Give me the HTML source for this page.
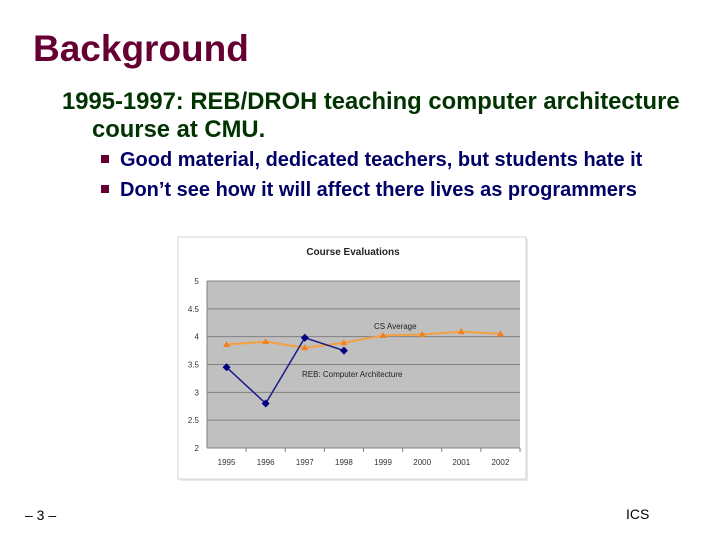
<!DOCTYPE html>
<html><head><meta charset="utf-8"><style>
body{margin:0;width:720px;height:540px;background:#fff;position:relative;overflow:hidden;font-family:"Liberation Sans",Arial,sans-serif}
.a{position:absolute;white-space:nowrap}
</style></head><body>
<div class="a" style="left:33px;top:28px;font-size:37px;font-weight:bold;color:#660033">Background</div>
<div class="a" style="left:62px;top:88px;font-size:23.8px;font-weight:bold;color:#003300;line-height:28px">1995-1997: REB/DROH teaching computer architecture</div>
<div class="a" style="left:92px;top:116px;font-size:23.8px;font-weight:bold;color:#003300;line-height:28px">course at CMU.</div>
<div class="a" style="left:101px;top:149px;font-size:20px;font-weight:bold;color:#000066"><span style="display:inline-block;width:8px;height:8px;background:#660033;margin-right:11px;vertical-align:3px"></span>Good material, dedicated teachers, but students hate it</div>
<div class="a" style="left:101px;top:179px;font-size:20px;font-weight:bold;color:#000066"><span style="display:inline-block;width:8px;height:8px;background:#660033;margin-right:11px;vertical-align:3px"></span>Don’t see how it will affect there lives as programmers</div>
<div class="a" style="left:25px;top:507px;font-size:14px;color:#000">– 3 –</div>
<div class="a" style="left:626px;top:506px;font-size:14px;color:#000">ICS</div>
<svg class="a" style="left:0;top:0" width="720" height="540" id="chart"></svg>
<script>
const years=["1995","1996","1997","1998","1999","2000","2001","2002"];
const csAvg=[3.86,3.91,3.80,3.89,4.02,4.04,4.09,4.05];
const reb=[3.45,2.8,3.98,3.75];
const yTicks=[2,2.5,3,3.5,4,4.5,5];
const NS="http://www.w3.org/2000/svg";
const svg=document.getElementById('chart');
const L=207,R=520,T=281,B=448;
const bw=(R-L)/years.length;
const x=i=>L+bw*(i+0.5);
const y=v=>B-(v-2)/3*(B-T);
function mk(t,a,p){const e=document.createElementNS(NS,t);for(const k in a)e.setAttribute(k,a[k]);(p||svg).appendChild(e);return e;}
let e;
e=mk('rect',{x:180,y:239,width:348,height:242,fill:'#e8e8e8'});

e=mk('rect',{x:178,y:237,width:348,height:242,fill:'#fff',stroke:'#d4d4d4'});

e=mk('text',{x:353,y:255,'text-anchor':'middle','font-size':10,'font-weight':'bold',fill:'#222'});e.textContent='Course Evaluations';

e=mk('rect',{x:L,y:T,width:R-L,height:B-T,fill:'#c0c0c0'});

yTicks.forEach(v=>{
 e=mk('line',{x1:L,x2:R,y1:y(v),y2:y(v),stroke:'#808080','stroke-width':1});
 
 e=mk('text',{x:L-8,y:y(v)+3,'text-anchor':'end','font-size':8,fill:'#333'});e.textContent=v;
 
});
e=mk('line',{x1:L,x2:L,y1:T,y2:B,stroke:'#808080'});
years.forEach((yr,i)=>{
 e=mk('line',{x1:L+bw*(i+1),x2:L+bw*(i+1),y1:B,y2:B+4,stroke:'#808080'});
 e=mk('text',{x:x(i),y:B+17,'text-anchor':'middle','font-size':8,fill:'#333'});e.textContent=yr;
 
});
e=mk('polyline',{points:csAvg.map((v,i)=>x(i)+','+y(v)).join(' '),fill:'none',stroke:'#f4a040','stroke-width':2});

csAvg.forEach((v,i)=>{const cx=x(i),cy=y(v);
 e=mk('polygon',{points:`${cx},${cy-3.5} ${cx-3.5},${cy+2.5} ${cx+3.5},${cy+2.5}`,fill:'#f08020'});
 });
e=mk('polyline',{points:reb.map((v,i)=>x(i)+','+y(v)).join(' '),fill:'none',stroke:'#1a1a8c','stroke-width':1.5});

reb.forEach((v,i)=>{const cx=x(i),cy=y(v);
 e=mk('polygon',{points:`${cx},${cy-4} ${cx+4},${cy} ${cx},${cy+4} ${cx-4},${cy}`,fill:'#000080'});
 });
e=mk('text',{x:374,y:329,'font-size':8,fill:'#222'});e.textContent='CS Average';

e=mk('text',{x:302,y:377,'font-size':8,fill:'#222'});e.textContent='REB: Computer Architecture';

</script>
</body></html>
